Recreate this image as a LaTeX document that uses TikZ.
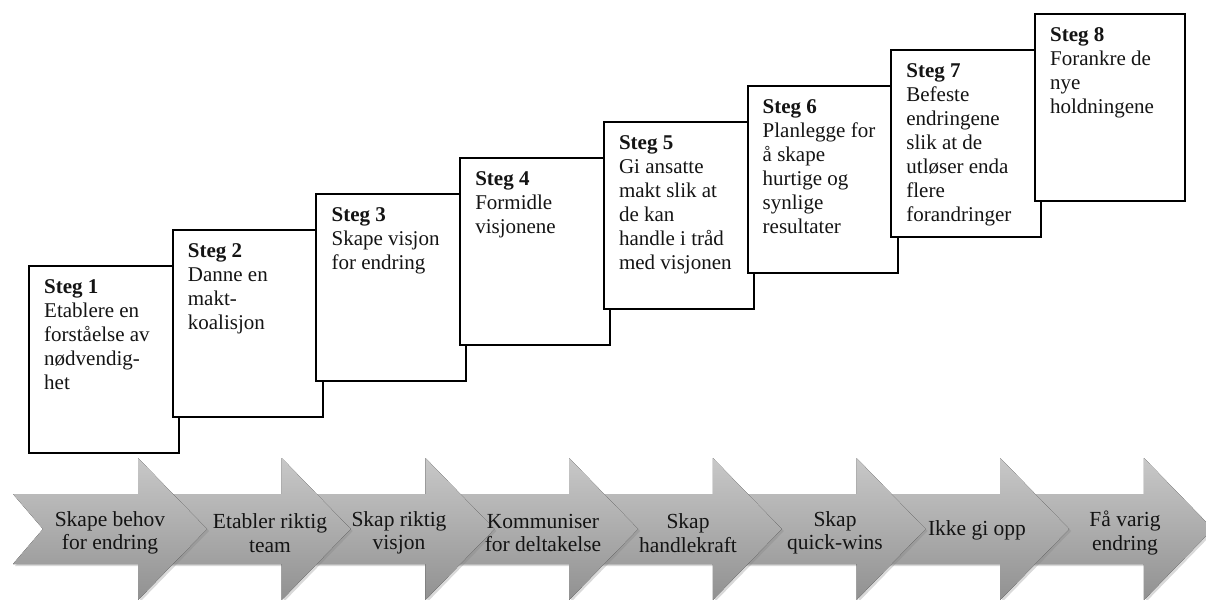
\documentclass[tikz,border=0pt]{standalone}
\usepackage{fontspec}
\setmainfont{Liberation Serif}
\usetikzlibrary{shadows}
\definecolor{arrowlight}{RGB}{200,200,200}
\definecolor{arrowdark}{RGB}{145,145,145}
\definecolor{inktext}{RGB}{20,20,20}
\begin{document}
\begin{tikzpicture}[x=1pt,y=-1pt,
  stepbox/.style={draw=black,line width=2pt,fill=white,anchor=north west,
    minimum width=150pt,minimum height=187pt,inner sep=0pt},
  steptext/.style={anchor=north west,align=left,inner sep=0pt,text=inktext,
    font=\fontsize{21}{24}\selectfont},
  chevron/.style={top color=arrowlight,bottom color=arrowdark,draw=none,
    drop shadow={opacity=0.3,shadow xshift=2pt,shadow yshift=-2pt}},
  chevlabel/.style={align=center,inner sep=0pt,text=inktext,
    font=\fontsize{21.5}{23.5}\selectfont}]
\useasboundingbox (0,0) rectangle (1206,599);

% process arrows, drawn right to left so each head lies over the next tail
\foreach \i in {7,6,...,0}{
  \pgfmathsetmacro\t{13+143.7*\i}
  \fill[chevron] (\t,494) -- ++(125,0) -- ++(0,-36) -- ++(69,71)
    -- ++(-69,71) -- ++(0,-36) -- ++(-125,0) -- ++(30,-35) -- cycle;
}

\node[chevlabel] (a1) at (110,533) {Skape behov\\for endring};
\node[chevlabel] (a2) at (270,533) {Etabler riktig\\team};
\node[chevlabel] (a3) at (399,533) {Skap riktig\\visjon};
\node[chevlabel] (a4) at (543,533) {Kommuniser\\for deltakelse};
\node[chevlabel] (a5) at (688,533) {Skap\\handlekraft};
\node[chevlabel] (a6) at (835,533) {Skap\\quick-wins};
\node[chevlabel] (a7) at (977,530) {Ikke gi opp};
\node[chevlabel] (a8) at (1125,533) {Få varig\\endring};

% staircase of steps
\node[stepbox] (box1) at (28,265) {};
\node[steptext] (t1) at ([xshift=16pt,yshift=-14pt]box1.north west)
  {\textbf{Steg 1}\\Etablere en\\forståelse av\\nødvendig-\\het};
\node[stepbox] (box2) at (171.7,229) {};
\node[steptext] (t2) at ([xshift=16pt,yshift=-14pt]box2.north west)
  {\textbf{Steg 2}\\Danne en\\makt-\\koalisjon};
\node[stepbox] (box3) at (315.4,193) {};
\node[steptext] (t3) at ([xshift=16pt,yshift=-14pt]box3.north west)
  {\textbf{Steg 3}\\Skape visjon\\for endring};
\node[stepbox] (box4) at (459.1,157) {};
\node[steptext] (t4) at ([xshift=16pt,yshift=-14pt]box4.north west)
  {\textbf{Steg 4}\\Formidle\\visjonene};
\node[stepbox] (box5) at (602.8,121) {};
\node[steptext] (t5) at ([xshift=16pt,yshift=-14pt]box5.north west)
  {\textbf{Steg 5}\\Gi ansatte\\makt slik at\\de kan\\handle i tråd\\med visjonen};
\node[stepbox] (box6) at (746.5,85) {};
\node[steptext] (t6) at ([xshift=16pt,yshift=-14pt]box6.north west)
  {\textbf{Steg 6}\\Planlegge for\\å skape\\hurtige og\\synlige\\resultater};
\node[stepbox] (box7) at (890.2,49) {};
\node[steptext] (t7) at ([xshift=16pt,yshift=-14pt]box7.north west)
  {\textbf{Steg 7}\\Befeste\\endringene\\slik at de\\utløser enda\\flere\\forandringer};
\node[stepbox] (box8) at (1033.9,13) {};
\node[steptext] (t8) at ([xshift=16pt,yshift=-14pt]box8.north west)
  {\textbf{Steg 8}\\Forankre de\\nye\\holdningene};
\end{tikzpicture}
\end{document}
